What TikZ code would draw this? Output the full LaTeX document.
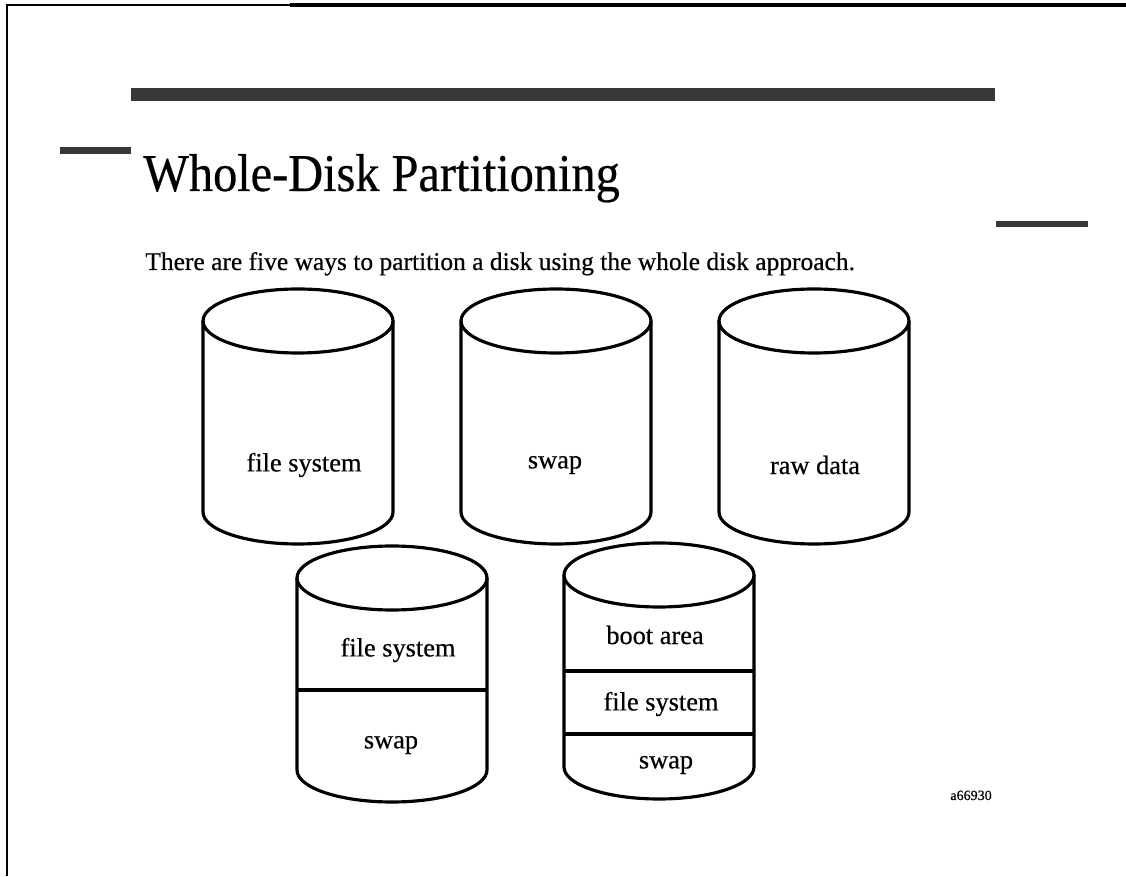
\documentclass[tikz,border=0pt]{standalone}
\usepackage{fontspec}
\setmainfont{Liberation Serif}[FakeBold=0.5]
\usetikzlibrary{positioning}

\begin{document}
\begin{tikzpicture}[
  x=0.02cm, y=0.02cm,
  disk/.style={line width=1.8pt, line join=round},
  bar/.style={fill=black!78},
  lbl/.style={font=\fontsize{15}{17}\selectfont, inner sep=0pt},
  txt/.style={font=\fontsize{14.5}{17}\selectfont, inner sep=0pt, anchor=base west},
  ttl/.style={font=\fontsize{27.5}{30}\selectfont, inner sep=0pt, anchor=base west}
]
\useasboundingbox (0,0) rectangle (1126,876);

% --- Frame and bars ---
\draw[line width=1pt] (7,0) -- (7,871) -- (290,871);
\draw[line width=2.2pt] (290,871) -- (1126,871);
\fill[bar] (131,775) rectangle (995,788);
\fill[bar] (60,722) rectangle (131,729);
\fill[bar] (996,649) rectangle (1088,655);

% --- Heading ---
\node[ttl] (title) at (143,685) {\scalebox{1}[1.1]{Whole-Disk Partitioning}};
\node[txt] (intro) at (145,606)
  {There are five ways to partition a disk using the whole disk approach.};

% --- Top row: one partition per disk ---
\foreach \cx in {298,556,814} {
  \draw[disk] (\cx,555) ellipse[x radius=95, y radius=32];
  \draw[disk] (\cx-95,555) -- (\cx-95,364)
    arc[start angle=180, end angle=360, x radius=95, y radius=32] -- (\cx+95,555);
}
\node[lbl] (fs)  at (304,411) {file system};
\node[lbl] (sw)  at (555,411) {swap};
\node[lbl] (raw) at (815,411) {raw data};

% --- Bottom row: split disks ---
\foreach \cx/\top/\bot in {392/298/106, 659/301/109} {
  \draw[disk] (\cx,\top) ellipse[x radius=95, y radius=32];
  \draw[disk] (\cx-95,\top) -- (\cx-95,\bot)
    arc[start angle=180, end angle=360, x radius=95, y radius=32] -- (\cx+95,\top);
}
\draw[disk] (297,186) -- (487,186);
\draw[disk] (564,205) -- (754,205);
\draw[disk] (564,142) -- (754,142);

\node[lbl] (fsA)   at (398,226) {file system};
\node[lbl] (swA)   at (391,131) {swap};
\node[lbl] (boot)  at (655,241) {boot area};
\node[lbl] (fsB)   at (661,172) {file system};
\node[lbl] (swB)   at (666,111) {swap};

\node[font=\fontsize{8}{9}\selectfont, inner sep=0pt, anchor=base west] (tag) at (950,76) {a66930};

\end{tikzpicture}
\end{document}
